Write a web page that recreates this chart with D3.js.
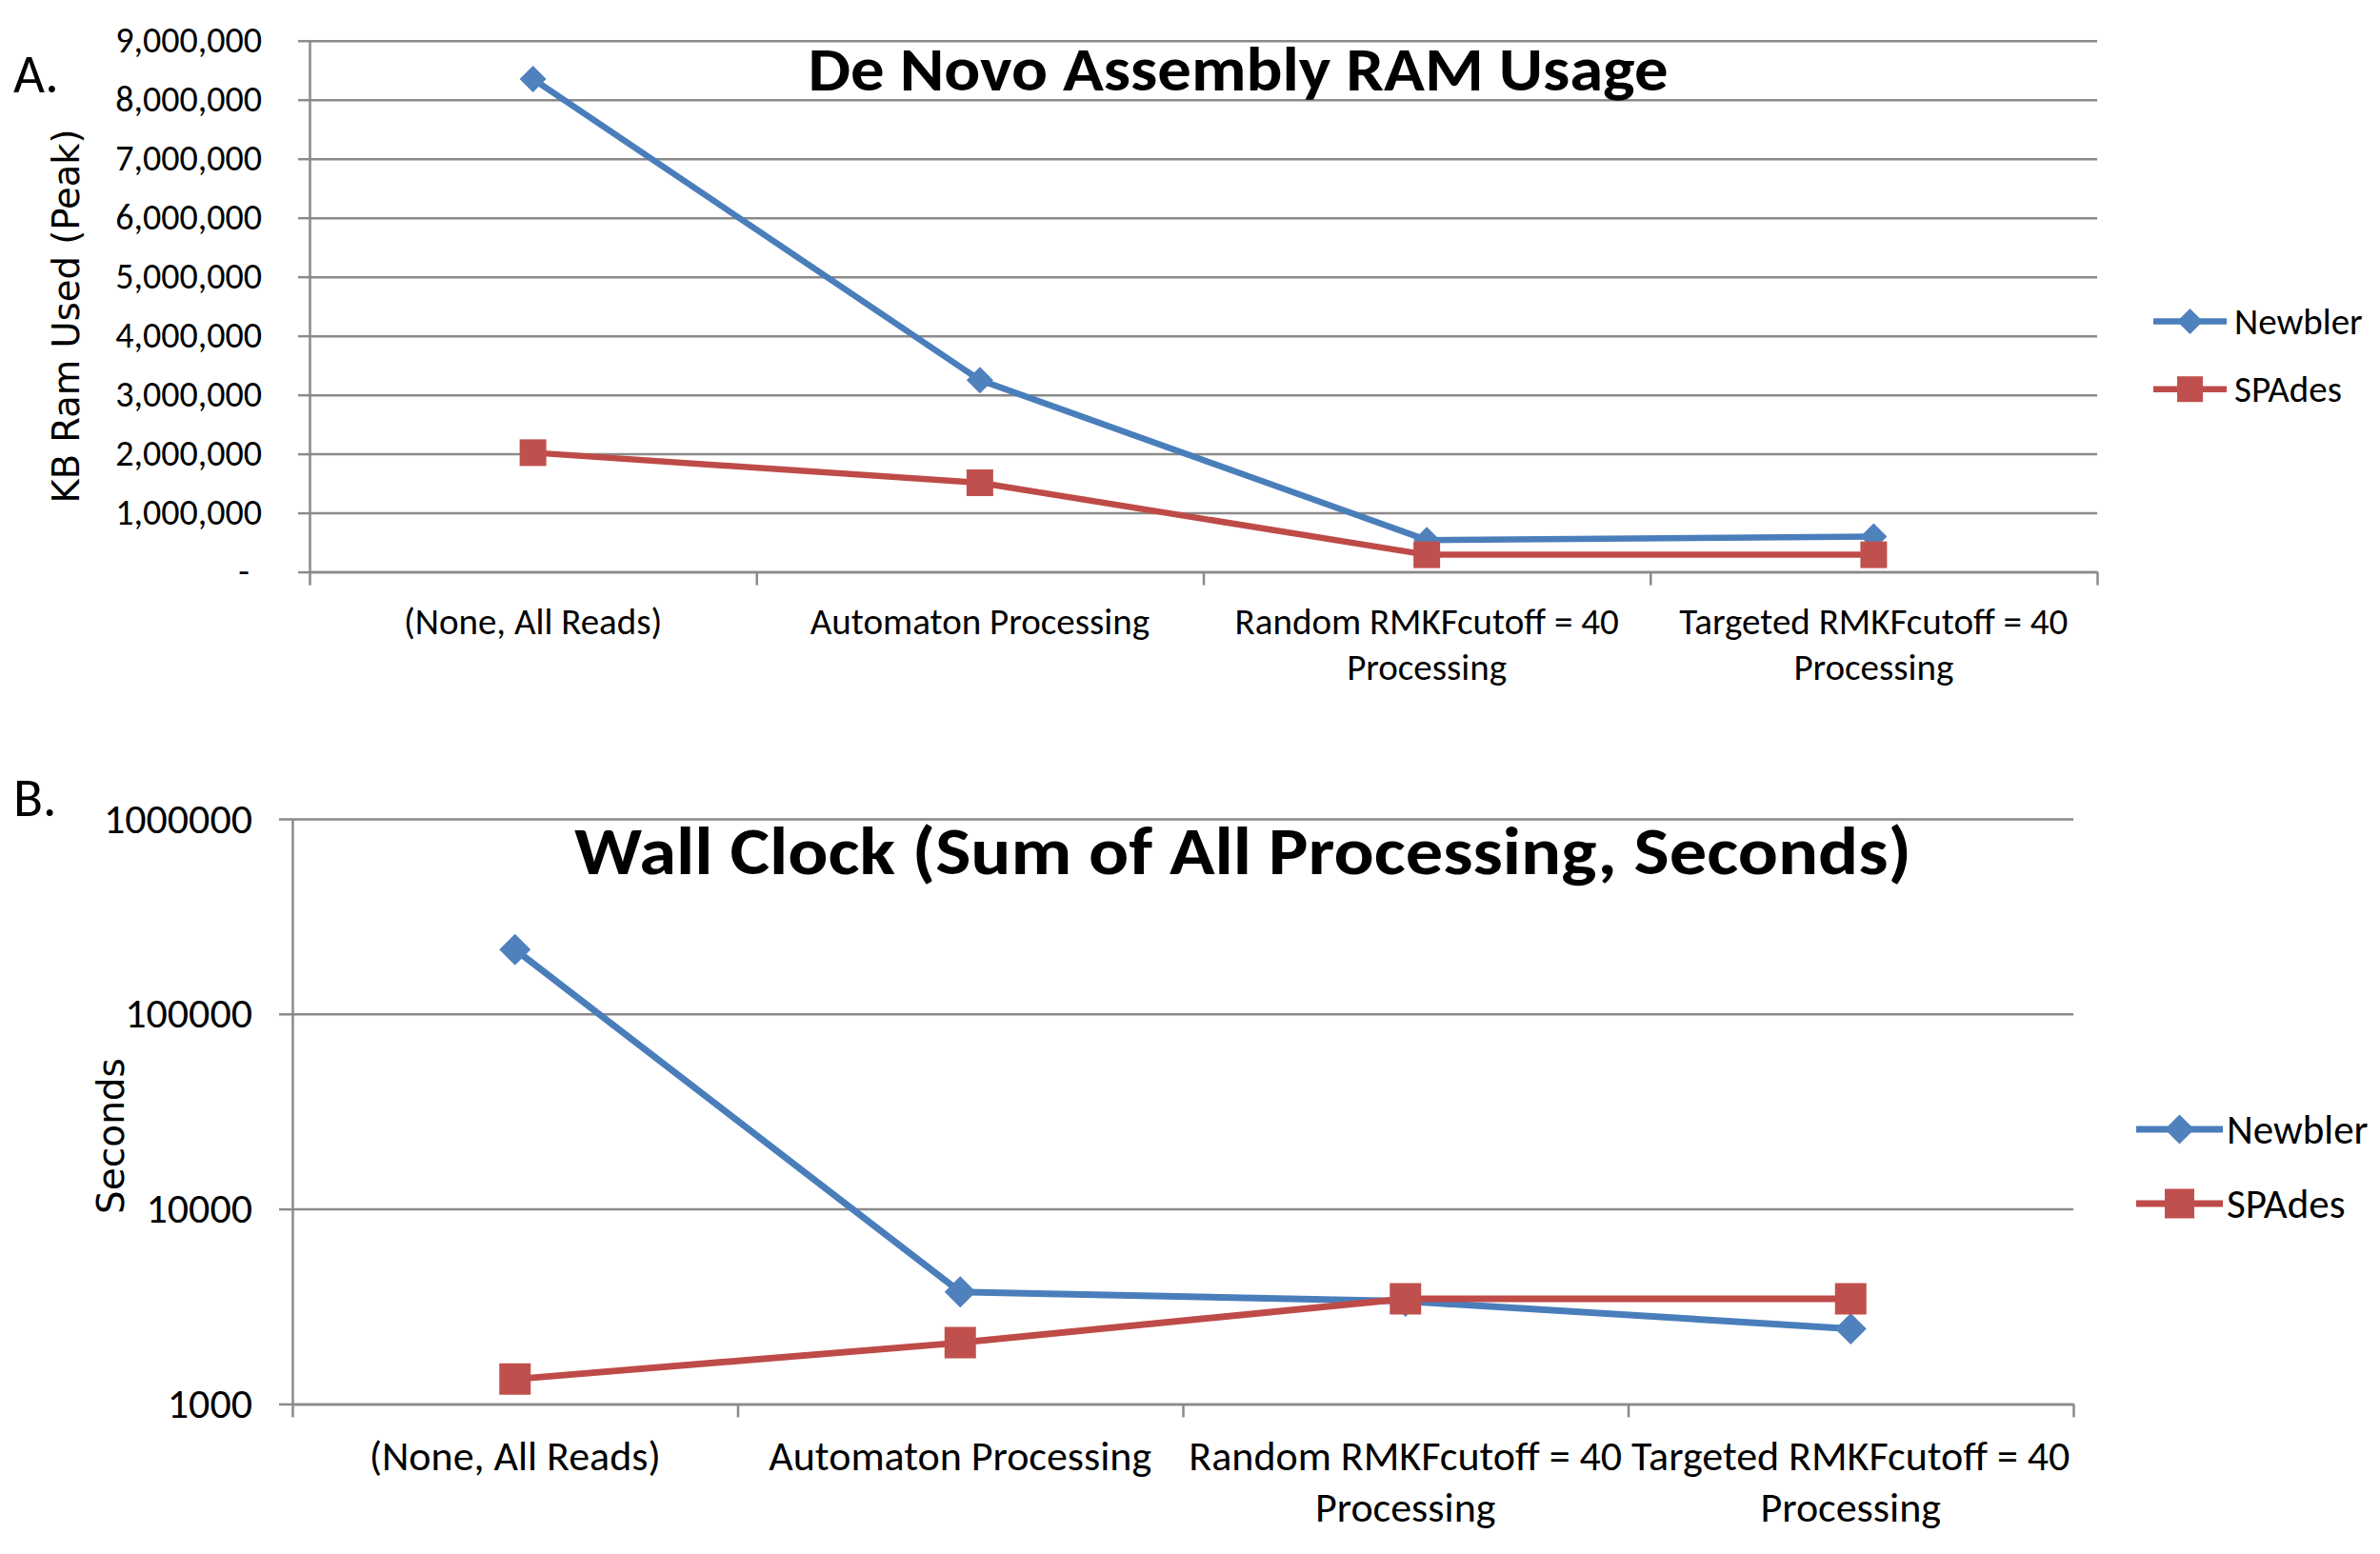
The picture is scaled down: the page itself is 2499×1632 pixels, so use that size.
<!DOCTYPE html>
<html>
<head>
<meta charset="utf-8">
<script src="https://cdn.jsdelivr.net/npm/d3@7"></script>
<style>
  html, body { margin: 0; padding: 0; background: #fff; }
  svg { display: block; }
</style>
</head>
<body>
<div id="chart"></div>
<script>
// categories (wrapped the way the chart wraps them)
const categoryLines = [
    ["(None, All Reads)"],
    ["Automaton Processing"],
    ["Random RMKFcutoff = 40", "Processing"],
    ["Targeted RMKFcutoff = 40", "Processing"]
];
const seriesNames = ["Newbler", "SPAdes"];

// A. peak RAM, KB
const ramNewbler = [8350000, 3250000, 540000, 600000];
const ramSpades = [2020000, 1510000, 290000, 290000];
const ramTicks = [0, 1000000, 2000000, 3000000, 4000000, 5000000, 6000000, 7000000, 8000000, 9000000];

// B. wall clock, seconds (log axis)
const wallNewbler = [214000, 3750, 3360, 2430];
const wallSpades = [1340, 2060, 3460, 3460];
const wallTicks = [1000, 10000, 100000, 1000000];

const lineColors = ["#4A7EBB", "#BE4B48"];
const markColors = ["#4F81BD", "#C0504D"];
const gridColor = "#8a8a8a";
const labelFont = "Carlito, Lato, sans-serif";
const axisTitleFont = "'DejaVu Sans', Verdana, sans-serif";

const svg = d3.select("#chart").append("svg")
    .attr("width", 2499)
    .attr("height", 1632);
svg.append("rect").attr("width", 2499).attr("height", 1632).attr("fill", "#fff");

function marker(sel, k, size) {
    // diamond for first series, square for second
    if (k === 0) {
        sel.attr("d", d3.symbol(d3.symbolSquare, size * size / 2)())
            .attr("transform", function () { return d3.select(this).attr("transform") + " rotate(45)"; });
    } else {
        sel.attr("d", d3.symbol(d3.symbolSquare, size * size)());
    }
    sel.attr("fill", markColors[k]);
}

function panel(o) {
    const g = svg.append("g");
    const n = categoryLines.length;
    const x = d3.scaleBand().domain(d3.range(n)).range([o.left, o.right]);
    const xb = d3.scaleLinear().domain([0, n]).range([o.left, o.right]);
    const cx = i => x(i) + x.bandwidth() / 2;
    const y = o.y;

    // gridlines
    g.append("g")
        .attr("transform", "translate(" + o.left + ",0)")
        .call(d3.axisLeft(y).tickValues(o.ticks).tickSize(-(o.right - o.left)).tickFormat(""))
        .call(s => s.select(".domain").remove())
        .selectAll("line").attr("stroke", gridColor).attr("stroke-width", 2.5);

    // y axis
    const ya = g.append("g")
        .attr("transform", "translate(" + o.left + ",0)")
        .call(d3.axisLeft(y).tickValues(o.ticks).tickSize(o.tick).tickSizeOuter(0)
            .tickPadding(o.pad).tickFormat(o.fmt));
    ya.attr("font-family", labelFont).attr("font-size", o.tickFont);
    ya.select(".domain").attr("stroke", gridColor).attr("stroke-width", 2.5);
    ya.selectAll("line").attr("stroke", gridColor).attr("stroke-width", 2.5);
    ya.selectAll("text").attr("fill", "#000");
    if (o.zeroShift) ya.selectAll("text").filter(d => d === 0).attr("dx", -o.zeroShift);

    // x axis: ticks between categories
    const xa = g.append("g")
        .attr("transform", "translate(0," + o.bottom + ")")
        .call(d3.axisBottom(xb).tickValues(d3.range(n + 1)).tickSize(14).tickSizeOuter(0).tickFormat(""));
    xa.select(".domain").attr("stroke", gridColor).attr("stroke-width", 2.5);
    xa.selectAll("line").attr("stroke", gridColor).attr("stroke-width", 2.5);

    // category labels
    const cl = g.append("g").attr("font-family", labelFont).attr("font-size", o.catFont)
        .attr("text-anchor", "middle").attr("fill", "#000");
    categoryLines.forEach((lines, i) => {
        const t = cl.append("text").attr("x", cx(i)).attr("y", o.bottom + o.catOffset);
        lines.forEach((s, j) => {
            t.append("tspan").attr("x", cx(i)).attr("dy", j === 0 ? 0 : o.catGap).text(s);
        });
    });

    // series
    const line = d3.line().x((d, i) => cx(i)).y(d => y(d));
    o.series.forEach((vals, k) => {
        g.append("path").datum(vals)
            .attr("d", line)
            .attr("fill", "none")
            .attr("stroke", lineColors[k])
            .attr("stroke-width", o.lineW)
            .attr("stroke-linejoin", "round");
    });
    o.series.forEach((vals, k) => {
        g.selectAll(null).data(vals).enter().append("path")
            .attr("transform", (d, i) => "translate(" + cx(i) + "," + y(d) + ")")
            .each(function () { marker(d3.select(this), k, o.mark); });
    });

    // legend
    seriesNames.forEach((name, k) => {
        const ly = o.legend.y[k];
        g.append("line")
            .attr("x1", o.legend.x1).attr("x2", o.legend.x2)
            .attr("y1", ly).attr("y2", ly)
            .attr("stroke", lineColors[k]).attr("stroke-width", o.lineW);
        g.append("path")
            .attr("transform", "translate(" + (o.legend.x1 + o.legend.x2) / 2 + "," + ly + ")")
            .each(function () { marker(d3.select(this), k, o.legend.mark); });
        g.append("text")
            .attr("x", o.legend.tx).attr("y", ly).attr("dy", "0.35em")
            .attr("font-family", labelFont).attr("font-size", o.legend.font)
            .attr("fill", "#000")
            .text(name);
    });

    // y axis title
    g.append("text")
        .attr("transform", "translate(" + o.yTitle.x + "," + o.yTitle.y + ") rotate(-90)")
        .attr("text-anchor", "middle").attr("dy", "0.35em")
        .attr("font-family", axisTitleFont).attr("font-size", o.yTitle.font)
        .attr("fill", "#000")
        .text(o.yTitle.text);

    // chart title
    g.append("text")
        .attr("x", o.title.x).attr("y", o.title.y)
        .attr("text-anchor", "middle")
        .attr("font-family", labelFont).attr("font-weight", "bold")
        .attr("font-size", o.title.font)
        .attr("textLength", o.title.len).attr("lengthAdjust", "spacingAndGlyphs")
        .attr("fill", "#000")
        .text(o.title.text);

    // panel letter
    g.append("text")
        .attr("x", o.letter.x).attr("y", o.letter.y)
        .attr("font-family", labelFont).attr("font-size", 57)
        .attr("fill", "#000")
        .text(o.letter.text);
}

panel({
    left: 325, right: 2202, bottom: 600.6,
    y: d3.scaleLinear().domain([0, 9000000]).range([600.6, 42.7]),
    ticks: ramTicks,
    fmt: d => d === 0 ? "-" : d3.format(",")(d),
    tick: 12, pad: 38, zeroShift: 13, tickFont: 38,
    catFont: 39, catOffset: 65, catGap: 48,
    series: [ramNewbler, ramSpades],
    lineW: 6.5, mark: 28,
    legend: { x1: 2261, x2: 2338, y: [337.5, 408.7], tx: 2346, font: 39, mark: 27 },
    yTitle: { x: 70, y: 332, font: 38.5, text: "KB Ram Used (Peak)" },
    title: { x: 1300, y: 95, font: 64, len: 903, text: "De Novo Assembly RAM Usage" },
    letter: { x: 14, y: 97, text: "A." }
});

panel({
    left: 307, right: 2177, bottom: 1474.4,
    y: d3.scaleLog().domain([1000, 1000000]).range([1474.4, 860]),
    ticks: wallTicks,
    fmt: d3.format("d"),
    tick: 14, pad: 28, zeroShift: 0, tickFont: 44,
    catFont: 44, catOffset: 70, catGap: 54,
    series: [wallNewbler, wallSpades],
    lineW: 7, mark: 33,
    legend: { x1: 2243, x2: 2334, y: [1186, 1264], tx: 2338, font: 43, mark: 31 },
    yTitle: { x: 116, y: 1193, font: 39, text: "Seconds" },
    title: { x: 1305, y: 918, font: 70, len: 1404, text: "Wall Clock (Sum of All Processing, Seconds)" },
    letter: { x: 14, y: 857, text: "B." }
});
</script>
</body>
</html>
